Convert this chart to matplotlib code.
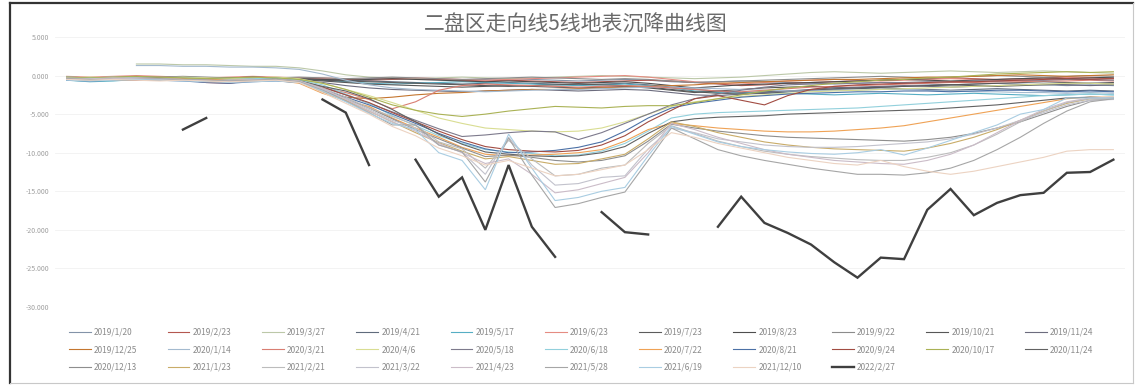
import numpy as np
import matplotlib
matplotlib.use("Agg")
from matplotlib import pyplot as plt

plt.rcParams['font.family'] = ['Noto Sans CJK SC', 'DejaVu Sans']

nan = np.nan
title = "二盘区走向线5线地表沉降曲线图"

dates = ["2019/1/20", "2019/2/23", "2019/3/27", "2019/4/21", "2019/5/17", "2019/6/23",
         "2019/7/23", "2019/8/23", "2019/9/22", "2019/10/21", "2019/11/24",
         "2019/12/25", "2020/1/14", "2020/3/21", "2020/4/6", "2020/5/18", "2020/6/18",
         "2020/7/22", "2020/8/21", "2020/9/24", "2020/10/17", "2020/11/24",
         "2020/12/13", "2021/1/23", "2021/2/21", "2021/3/22", "2021/4/23", "2021/5/28",
         "2021/6/19", "2021/12/10", "2022/2/27"]

colors = ["#8393a8", "#b4574f", "#bcc8a8", "#5f6b7c", "#56aec4", "#e58c82",
          "#5c5c5c", "#4e4e4e", "#8c8c8c", "#575757", "#6c6c7e",
          "#c4762f", "#a4bacf", "#d97e72", "#d9dd92", "#7d7a8c", "#92d0dc",
          "#efa255", "#4c71a6", "#a24c42", "#aab255", "#626262",
          "#8e8e8e", "#c9ac68", "#bcbcbc", "#c2c2cc", "#cbbcc8", "#a6a6a6",
          "#a9cde2", "#ecd3c2", "#3f3f3f"]

# settlement (mm) at each point along the line, one list per survey date
s01 = [-0.5,-0.6,-0.4,-0.3,-0.2,-0.3,-0.4,-0.5,-0.4,-0.3,-0.3,-0.4,-0.5,-0.4,-0.3,-0.4,-0.5,-0.6,-0.5,-0.4,-0.5,-0.6,-0.7,-0.6,-0.5,-0.6,-0.8,-0.9,-0.8,-0.7,-0.8,-0.9,-1.0,-1.1,-1.0,-0.9,-1.0,-1.1,-1.2,-1.1,-1.0,-1.1,-1.2,-1.3,-1.2,-1.3]
s02 = [-0.3,-0.4,-0.3,-0.2,-0.3,-0.5,-0.9,-1.0,-0.6,-0.4,-0.3,-0.4,-0.5,-0.6,-0.5,-0.4,-0.5,-0.6,-0.7,-0.6,-0.7,-0.8,-0.9,-0.8,-0.7,-0.6,-0.7,-0.9,-1.1,-1.3,-1.2,-1.0,-0.9,-0.8,-0.7,-0.6,-0.5,-0.4,-0.3,-0.4,-0.5,-0.4,-0.3,-0.2,-0.3,-0.4]
s03 = [nan,nan,nan,1.5,1.5,1.4,1.4,1.3,1.2,1.2,1.0,0.6,0.1,-0.2,-0.3,-0.4,-0.3,-0.2,-0.3,-0.4,-0.3,-0.2,-0.1,0.0,-0.1,-0.2,-0.3,-0.4,-0.3,-0.2,0.0,0.2,0.4,0.5,0.4,0.3,0.4,0.5,0.6,0.5,0.4,0.5,0.6,0.5,0.4,0.3]
s04 = [-0.2,-0.3,-0.2,-0.1,-0.2,-0.3,-0.4,-0.3,-0.2,-0.3,-0.4,-0.5,-0.6,-0.7,-0.8,-0.9,-1.0,-1.1,-1.0,-0.9,-1.0,-1.1,-1.2,-1.1,-1.0,-1.2,-1.5,-1.8,-2.0,-2.2,-2.1,-2.0,-1.9,-1.8,-1.7,-1.6,-1.7,-1.8,-1.9,-1.8,-1.7,-1.8,-1.9,-2.0,-1.9,-2.0]
s05 = [-0.6,-0.8,-0.7,-0.5,-0.4,-0.5,-0.6,-0.5,-0.4,-0.3,-0.4,-0.6,-0.8,-1.0,-1.1,-1.0,-0.9,-0.8,-0.9,-1.0,-1.1,-1.2,-1.3,-1.2,-1.1,-1.3,-1.6,-2.0,-2.2,-2.3,-2.2,-2.3,-2.4,-2.5,-2.4,-2.3,-2.4,-2.5,-2.4,-2.3,-2.4,-2.5,-2.6,-2.5,-2.4,-2.5]
s06 = [-0.1,-0.2,-0.1,0.0,-0.1,-0.2,-0.3,-0.2,-0.1,-0.2,-0.3,-0.3,-0.4,-0.5,-0.4,-0.3,-0.4,-0.5,-0.6,-0.5,-0.4,-0.3,-0.2,-0.1,0.0,-0.2,-0.5,-0.8,-1.0,-1.1,-0.9,-0.7,-0.6,-0.5,-0.6,-0.7,-0.6,-0.5,-0.4,-0.5,-0.6,-0.5,-0.4,-0.3,-0.2,-0.3]
s07 = [-0.3,-0.4,-0.5,-0.4,-0.3,-0.4,-0.5,-0.6,-0.5,-0.4,-0.5,-0.6,-0.7,-0.8,-0.9,-1.0,-1.1,-1.2,-1.3,-1.4,-1.3,-1.2,-1.1,-1.2,-1.3,-1.5,-1.8,-2.1,-2.3,-2.4,-2.3,-2.1,-1.9,-1.7,-1.6,-1.5,-1.4,-1.3,-1.2,-1.3,-1.4,-1.3,-1.2,-1.1,-1.0,-1.1]
s08 = [-0.4,-0.5,-0.4,-0.3,-0.4,-0.5,-0.4,-0.3,-0.2,-0.3,-0.4,-0.5,-0.6,-0.5,-0.4,-0.5,-0.6,-0.7,-0.8,-0.7,-0.8,-0.9,-1.0,-0.9,-0.8,-1.0,-1.3,-1.6,-1.4,-1.2,-1.1,-1.0,-0.9,-0.8,-0.7,-0.6,-0.5,-0.6,-0.7,-0.6,-0.5,-0.4,-0.3,-0.4,-0.3,-0.2]
s09 = [-0.2,-0.3,-0.4,-0.3,-0.2,-0.1,-0.2,-0.3,-0.4,-0.3,-0.2,-0.3,-0.4,-0.3,-0.2,-0.3,-0.4,-0.5,-0.4,-0.3,-0.2,-0.3,-0.4,-0.5,-0.4,-0.5,-0.7,-0.9,-0.8,-0.7,-0.6,-0.5,-0.4,-0.3,-0.2,-0.1,-0.2,-0.3,-0.2,-0.1,0.0,-0.1,-0.2,-0.1,0.0,-0.1]
s10 = [-0.5,-0.6,-0.5,-0.4,-0.5,-0.6,-0.7,-0.6,-0.5,-0.4,-0.5,-0.7,-0.9,-1.1,-1.2,-1.3,-1.4,-1.5,-1.4,-1.3,-1.4,-1.5,-1.6,-1.5,-1.4,-1.6,-1.9,-2.2,-2.0,-1.8,-1.6,-1.5,-1.4,-1.5,-1.6,-1.5,-1.4,-1.3,-1.2,-1.1,-1.0,-0.9,-0.8,-0.9,-1.0,-0.9]
s11 = [-0.3,-0.4,-0.3,-0.2,-0.3,-0.4,-0.5,-0.4,-0.3,-0.4,-0.6,-0.9,-1.3,-1.6,-1.8,-1.9,-2.0,-2.1,-2.0,-1.9,-1.8,-1.9,-2.0,-1.9,-1.8,-1.9,-2.2,-2.5,-2.6,-2.4,-2.2,-2.0,-1.8,-1.6,-1.5,-1.4,-1.3,-1.4,-1.5,-1.4,-1.3,-1.2,-1.1,-1.2,-1.3,-1.2]
s12 = [-0.4,-0.5,-0.4,-0.3,-0.4,-0.5,-0.6,-0.5,-0.4,-0.5,-0.8,-2.2,-2.8,-3.0,-2.8,-2.5,-2.3,-2.2,-2.0,-1.9,-1.8,-1.8,-1.7,-1.6,-1.5,-1.4,-1.3,-1.2,-1.0,-0.9,-0.8,-0.7,-0.6,-0.5,-0.5,-0.4,-0.3,-0.2,-0.2,-0.1,0.0,0.1,0.0,-0.1,0.0,0.1]
s13 = [nan,nan,nan,1.3,1.3,1.2,1.2,1.1,1.1,1.0,0.8,0.2,-0.6,-1.2,-1.6,-1.8,-1.9,-2.0,-2.1,-2.0,-1.9,-1.8,-1.8,-1.7,-1.6,-1.5,-1.5,-1.6,-1.7,-1.8,-1.9,-2.0,-2.0,-1.9,-1.9,-1.8,-1.8,-1.9,-2.0,-2.1,-2.1,-2.2,-2.2,-2.3,-2.2,-2.3]
s14 = [-0.4,-0.3,-0.4,-0.5,-0.4,-0.3,-0.5,-0.6,-0.5,-0.4,-0.7,-1.6,-2.2,-3.1,-4.3,-3.4,-1.9,-1.3,-1.1,-1.2,-1.3,-1.4,-1.5,-1.4,-1.3,-1.4,-1.6,-1.8,-2.0,-2.1,-1.9,-1.7,-1.5,-1.4,-1.3,-1.2,-1.1,-1.0,-0.9,-0.9,-0.8,-0.8,-0.7,-0.7,-0.6,-0.7]
s15 = [-0.3,-0.2,-0.3,-0.4,-0.3,-0.2,-0.3,-0.4,-0.3,-0.2,-0.4,-1.0,-1.8,-2.6,-3.5,-4.5,-5.5,-6.2,-6.8,-7.0,-7.2,-7.3,-7.2,-6.8,-6.0,-5.0,-4.0,-3.4,-3.0,-2.7,-2.5,-2.3,-2.1,-2.0,-1.9,-1.8,-1.7,-1.6,-1.5,-1.4,-1.3,-1.2,-1.1,-1.0,-1.0,-1.1]
s16 = [-0.3,-0.4,-0.5,-0.4,-0.3,-0.4,-0.5,-0.6,-0.5,-0.4,-0.6,-1.5,-2.5,-3.6,-4.7,-5.8,-6.9,-7.9,-7.7,-7.4,-7.2,-7.3,-8.3,-7.4,-6.2,-5.0,-3.8,-3.0,-2.4,-1.9,-1.5,-1.2,-1.1,-1.0,-1.0,-0.9,-0.9,-0.8,-0.8,-0.7,-0.7,-0.6,-0.6,-0.5,-0.5,-0.6]
s17 = [-0.2,-0.3,-0.2,-0.3,-0.4,-0.3,-0.4,-0.5,-0.4,-0.3,-0.6,-1.2,-2.4,-3.6,-5.2,-6.5,-7.8,-8.8,-9.6,-9.9,-10.1,-10.4,-10.3,-9.8,-8.8,-7.2,-5.5,-5.0,-4.8,-4.7,-4.6,-4.5,-4.4,-4.3,-4.2,-4.0,-3.8,-3.6,-3.4,-3.2,-3.0,-2.8,-2.6,-2.5,-2.4,-2.5]
s18 = [-0.3,-0.4,-0.3,-0.4,-0.5,-0.4,-0.5,-0.6,-0.5,-0.6,-1.0,-2.3,-3.2,-4.0,-5.5,-6.8,-8.0,-9.3,-10.2,-10.4,-10.3,-10.2,-10.0,-9.6,-8.5,-7.0,-6.2,-6.5,-6.8,-7.0,-7.2,-7.3,-7.3,-7.2,-7.0,-6.8,-6.5,-6.0,-5.5,-5.0,-4.5,-4.0,-3.5,-3.0,-2.8,-2.8]
s19 = [-0.6,-0.7,-0.6,-0.5,-0.6,-0.7,-0.9,-1.0,-0.8,-0.7,-0.9,-1.8,-2.8,-3.8,-5.0,-6.2,-7.5,-8.6,-9.5,-10.0,-9.9,-9.7,-9.3,-8.6,-7.2,-5.5,-4.2,-3.6,-3.2,-2.8,-2.6,-2.4,-2.3,-2.2,-2.1,-2.1,-2.0,-2.0,-2.1,-2.0,-1.9,-1.9,-2.0,-2.1,-2.0,-2.1]
s20 = [-0.5,-0.4,-0.5,-0.6,-0.5,-0.6,-0.8,-0.9,-0.7,-0.6,-0.8,-1.5,-2.5,-3.5,-4.8,-6.0,-7.2,-8.3,-9.2,-9.6,-9.8,-9.9,-9.7,-9.0,-7.8,-6.0,-4.5,-3.0,-2.6,-3.2,-3.8,-2.6,-1.8,-1.4,-1.2,-1.1,-1.0,-0.9,-0.8,-0.8,-0.7,-0.6,-0.5,-0.4,-0.5,-0.4]
s21 = [-0.2,-0.3,-0.2,-0.1,-0.2,-0.3,-0.4,-0.3,-0.2,-0.3,-0.5,-1.0,-1.8,-2.8,-3.8,-4.5,-5.0,-5.3,-5.0,-4.6,-4.3,-4.0,-4.1,-4.2,-4.0,-3.9,-3.9,-3.5,-3.0,-2.5,-2.0,-1.6,-1.3,-1.0,-0.8,-0.6,-0.5,-0.3,-0.2,0.0,0.2,0.3,0.4,0.5,0.4,0.5]
s22 = [-0.4,-0.5,-0.4,-0.5,-0.6,-0.5,-0.6,-0.7,-0.6,-0.5,-0.7,-1.4,-2.0,-3.0,-4.4,-6.0,-7.6,-8.9,-9.9,-10.2,-10.4,-10.5,-10.4,-10.0,-9.2,-7.5,-6.0,-5.6,-5.4,-5.3,-5.2,-5.0,-4.9,-4.8,-4.7,-4.6,-4.5,-4.4,-4.2,-4.0,-3.8,-3.5,-3.2,-2.9,-2.8,-2.9]
s23 = [-0.5,-0.6,-0.5,-0.4,-0.5,-0.6,-0.7,-0.8,-0.7,-0.6,-0.9,-1.9,-3.0,-4.2,-5.6,-7.0,-8.2,-9.4,-10.5,-10.3,-10.6,-11.0,-11.2,-11.0,-10.4,-8.5,-6.3,-6.8,-7.2,-7.5,-7.8,-8.0,-8.1,-8.2,-8.3,-8.4,-8.5,-8.3,-8.0,-7.5,-6.8,-6.0,-5.0,-4.0,-3.2,-3.0]
s24 = [-0.4,-0.5,-0.6,-0.5,-0.4,-0.5,-0.7,-0.8,-0.6,-0.5,-0.8,-2.0,-3.2,-4.6,-6.0,-7.4,-8.7,-9.8,-10.8,-10.5,-11.0,-11.5,-11.4,-10.8,-10.2,-8.2,-6.0,-6.6,-7.4,-8.0,-8.6,-9.0,-9.3,-9.5,-9.6,-9.7,-9.8,-9.4,-8.8,-8.0,-7.0,-5.8,-4.6,-3.6,-3.0,-2.9]
s25 = [-0.3,-0.4,-0.5,-0.4,-0.5,-0.6,-0.6,-0.7,-0.6,-0.5,-0.7,-1.6,-2.8,-4.2,-5.3,-6.4,-8.6,-9.5,-12.0,-8.4,-10.8,-13.0,-12.8,-12.0,-11.6,-8.8,-6.5,-7.5,-8.5,-9.2,-9.8,-10.2,-10.5,-10.7,-10.9,-11.0,-11.0,-10.6,-10.0,-9.0,-7.6,-6.0,-4.6,-3.5,-3.0,-3.0]
s26 = [-0.5,-0.4,-0.3,-0.4,-0.5,-0.6,-0.7,-0.6,-0.5,-0.6,-0.8,-1.8,-3.0,-4.4,-5.8,-6.8,-9.0,-9.9,-12.8,-8.0,-11.6,-14.2,-14.0,-13.2,-13.0,-9.5,-6.8,-7.4,-8.2,-8.6,-9.0,-9.2,-9.3,-9.3,-9.2,-9.0,-8.8,-8.6,-8.2,-7.6,-6.8,-5.8,-4.8,-3.8,-3.2,-3.1]
s27 = [-0.4,-0.5,-0.4,-0.3,-0.4,-0.5,-0.6,-0.7,-0.6,-0.5,-0.7,-1.7,-3.1,-4.6,-6.0,-7.2,-8.8,-10.0,-11.4,-10.8,-12.8,-15.2,-14.8,-14.0,-13.2,-10.0,-6.2,-7.0,-8.0,-8.8,-9.6,-10.2,-10.6,-11.0,-11.2,-11.4,-11.5,-11.0,-10.2,-9.0,-7.4,-5.8,-4.4,-3.4,-2.9,-2.8]
s28 = [-0.4,-0.5,-0.6,-0.5,-0.4,-0.5,-0.6,-0.7,-0.6,-0.5,-0.8,-1.9,-3.3,-4.8,-6.4,-6.4,-9.0,-9.9,-13.8,-8.1,-12.9,-17.1,-16.6,-15.8,-15.1,-11.0,-6.8,-8.2,-9.6,-10.4,-11.0,-11.5,-12.0,-12.4,-12.8,-12.8,-12.9,-12.6,-12.0,-11.0,-9.6,-8.0,-6.2,-4.6,-3.4,-3.0]
s29 = [-0.6,-0.7,-0.6,-0.5,-0.6,-0.7,-0.8,-0.9,-0.8,-0.7,-0.9,-2.0,-3.4,-4.9,-6.2,-7.0,-10.0,-11.0,-14.8,-7.6,-12.0,-16.2,-15.8,-15.0,-14.5,-10.4,-6.6,-7.6,-8.6,-9.2,-9.6,-9.9,-10.1,-10.2,-10.0,-9.6,-10.3,-9.4,-8.4,-7.4,-6.4,-5.0,-4.4,-2.9,-2.9,-2.9]
s30 = [-0.5,-0.6,-0.5,-0.6,-0.7,-0.6,-0.7,-0.8,-0.7,-0.6,-0.9,-2.2,-3.6,-5.0,-6.6,-7.8,-9.4,-10.4,-11.6,-11.0,-12.0,-13.0,-12.8,-12.2,-11.6,-9.6,-7.4,-8.0,-8.8,-9.4,-10.0,-10.6,-11.0,-11.4,-11.6,-11.0,-11.8,-12.4,-12.8,-12.4,-11.8,-11.2,-10.6,-9.8,-9.6,-9.6]
s31 = [nan,nan,nan,nan,nan,-7.0,-5.5,nan,nan,nan,nan,-3.1,-4.8,-11.6,nan,-10.9,-15.7,-13.2,-20.0,-11.6,-19.6,-23.5,nan,-17.7,-20.3,-20.6,nan,nan,-19.6,-15.7,-19.1,-20.4,-21.9,-24.2,-26.2,-23.6,-23.8,-17.4,-14.7,-18.1,-16.5,-15.5,-15.2,-12.6,-12.5,-10.9]

series = [s01, s02, s03, s04, s05, s06, s07, s08, s09, s10, s11, s12, s13, s14, s15, s16,
          s17, s18, s19, s20, s21, s22, s23, s24, s25, s26, s27, s28, s29, s30, s31]

y_ticks = [5, 0, -5, -10, -15, -20, -25, -30]

fig = plt.figure(figsize=(11.35, 3.85), dpi=100)
ax = fig.add_axes([55 / 1135, 1 - 307 / 385, 1070 / 1135, 270 / 385])

x = np.arange(len(s01))
handles = []
for vals, lab, col in zip(series, dates, colors):
    lw = 1.7 if lab == "2022/2/27" else 0.8
    h, = ax.plot(x, vals, color=col, lw=lw, label=lab, solid_joinstyle='miter')
    handles.append(h)

ax.set_xlim(-0.5, len(s01) - 0.5)
ax.set_ylim(-30, 5)
ax.set_yticks(y_ticks)
ax.set_yticklabels(["%.3f" % v for v in y_ticks], fontsize=5, color="#a0a0a0")
ax.set_xticks([])
ax.tick_params(axis='y', length=0, pad=4)
ax.grid(axis='y', color="#f1f1f1", lw=0.6)
ax.set_axisbelow(True)
for sp in ax.spines.values():
    sp.set_visible(False)

# excel fills the legend row by row, matplotlib column by column
ncol = 11
order = []
for c in range(ncol):
    for r in range(3):
        k = r * ncol + c
        if k < len(handles):
            order.append(k)
fig.legend([handles[k] for k in order], [dates[k] for k in order],
           loc='upper left', bbox_to_anchor=(69 / 1135, 1 - 328 / 385),
           ncol=ncol, frameon=False, fontsize=6, labelcolor="#8a8a8a",
           handlelength=2.6, handletextpad=0.4, columnspacing=3.65,
           labelspacing=1.0, borderpad=0, borderaxespad=0)

fig.text(576 / 1135, 1 - 25 / 385, title, ha='center', va='center',
         fontsize=15, color="#6a6a6a")

# outer frame of the screenshot
fig.add_artist(plt.Line2D([10 / 1135, 10 / 1135], [0.005, 1 - 3 / 385], color="#333333", lw=1.6))
fig.add_artist(plt.Line2D([10 / 1135, 0.998], [1 - 3 / 385, 1 - 3 / 385], color="#333333", lw=1.6))
fig.add_artist(plt.Line2D([0.998, 0.998], [0.005, 1 - 3 / 385], color="#c8c8c8", lw=0.8))
fig.add_artist(plt.Line2D([10 / 1135, 0.998], [0.005, 0.005], color="#c8c8c8", lw=0.8))

fig.savefig("out.png", dpi=100, facecolor="white")
